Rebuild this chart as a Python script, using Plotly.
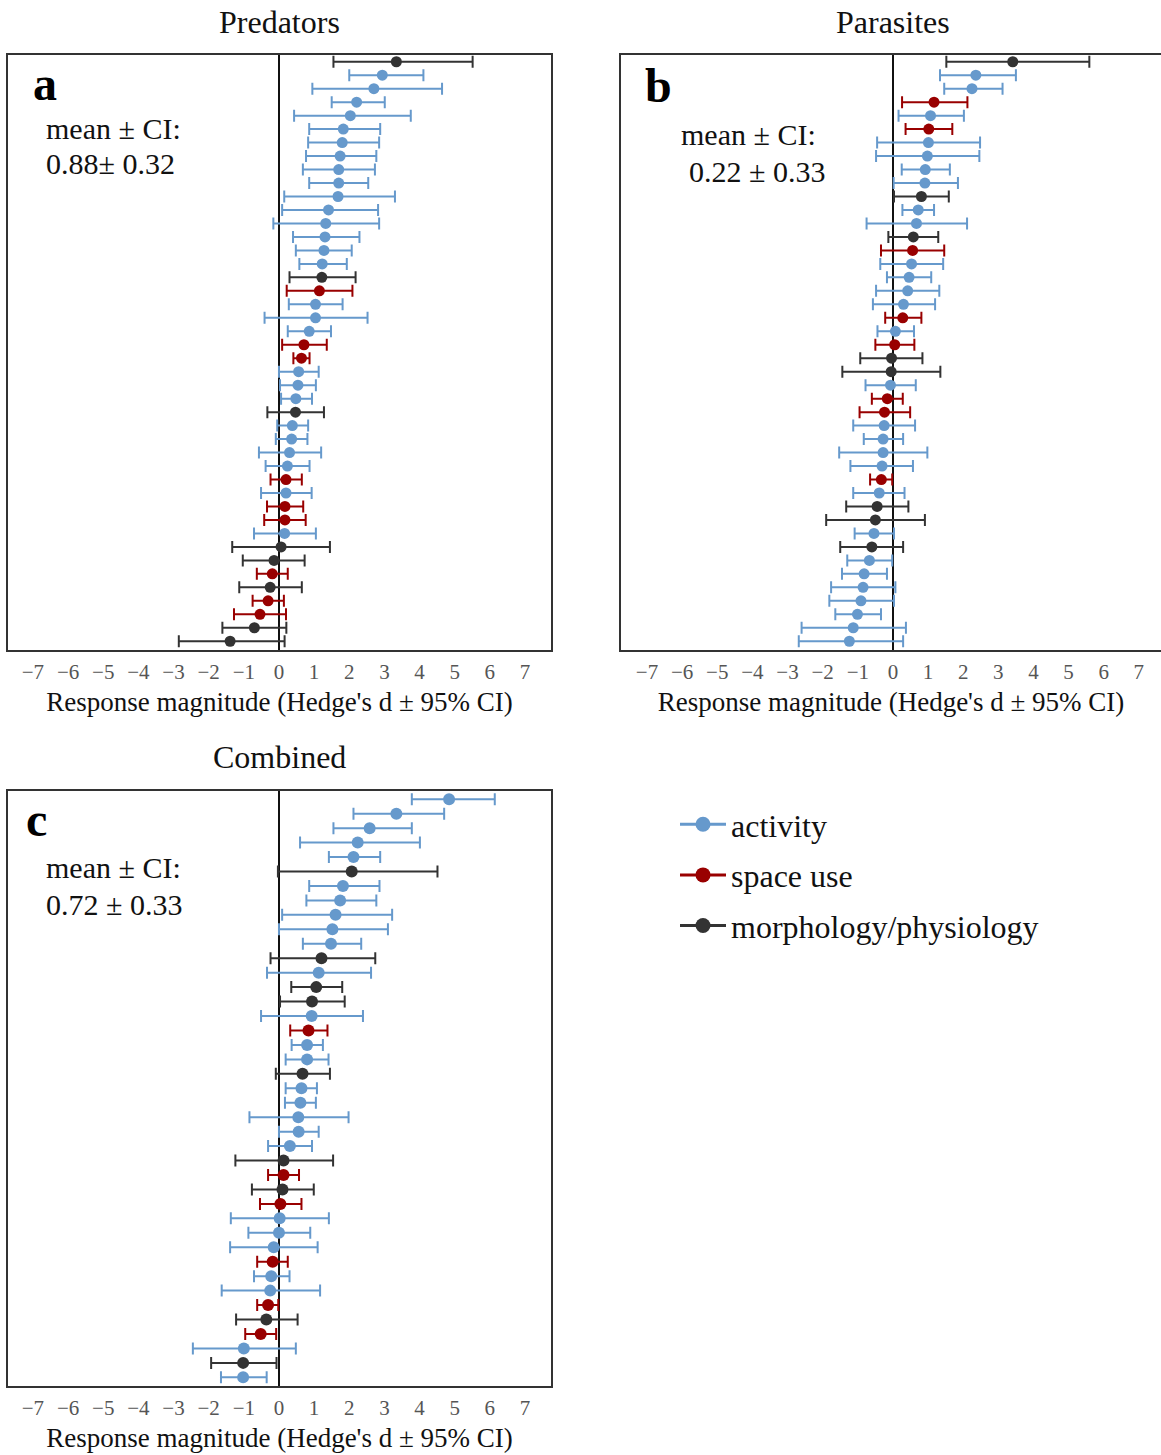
import plotly.graph_objects as go

# ---------------- data ----------------
categories = ["activity", "space use", "morphology/physiology"]
cat_colors = {"activity": "#6699CC", "space use": "#990000", "morphology/physiology": "#333333"}
code = {"A": "activity", "S": "space use", "M": "morphology/physiology"}

pred_mean = [3.34, 2.94, 2.70, 2.21, 2.03, 1.83, 1.80, 1.74, 1.70, 1.70, 1.68, 1.41, 1.33, 1.31, 1.28,
             1.23, 1.22, 1.15, 1.04, 1.04, 0.86, 0.71, 0.64, 0.56, 0.54, 0.48, 0.47, 0.38, 0.36, 0.30,
             0.24, 0.20, 0.20, 0.17, 0.17, 0.16, 0.06, -0.14, -0.19, -0.25, -0.31, -0.54, -0.70, -1.39]
pred_lo = [1.55, 2.00, 0.95, 1.50, 0.43, 0.86, 0.83, 0.77, 0.68, 0.86, 0.15, 0.09, -0.16, 0.40, 0.48,
           0.58, 0.30, 0.22, 0.28, -0.41, 0.25, 0.09, 0.41, 0.00, 0.03, 0.06, -0.33, -0.05, -0.09, -0.57,
           -0.38, -0.24, -0.51, -0.34, -0.42, -0.71, -1.33, -1.03, -0.63, -1.13, -0.75, -1.28, -1.61, -2.85]
pred_hi = [5.51, 4.11, 4.64, 3.01, 3.75, 2.88, 2.85, 2.77, 2.73, 2.54, 3.30, 2.82, 2.85, 2.29, 2.07,
           1.93, 2.18, 2.09, 1.81, 2.52, 1.48, 1.36, 0.87, 1.13, 1.05, 0.94, 1.28, 0.83, 0.81, 1.20,
           0.87, 0.65, 0.93, 0.69, 0.76, 1.05, 1.45, 0.73, 0.25, 0.65, 0.14, 0.20, 0.21, 0.16]
pred_cat = list("MAAAAAAAAAAAAAAAMSAAASSAAAMAAAASASSAMMSMSSMM")

para_mean = [3.41, 2.36, 2.25, 1.17, 1.07, 1.02, 1.01, 0.98, 0.92, 0.91, 0.81, 0.72, 0.67, 0.58, 0.56,
             0.53, 0.46, 0.42, 0.30, 0.28, 0.07, 0.05, -0.04, -0.05, -0.07, -0.16, -0.24, -0.25, -0.28, -0.28,
             -0.31, -0.33, -0.39, -0.45, -0.50, -0.54, -0.60, -0.67, -0.82, -0.85, -0.91, -1.01, -1.13, -1.24]
para_lo = [1.52, 1.34, 1.46, 0.26, 0.16, 0.36, -0.45, -0.48, 0.25, 0.02, 0.03, 0.27, -0.75, -0.13, -0.34,
           -0.36, -0.17, -0.48, -0.57, -0.22, -0.44, -0.50, -0.93, -1.44, -0.78, -0.60, -0.95, -1.13, -0.83, -1.53,
           -1.21, -0.65, -1.13, -1.33, -1.90, -1.09, -1.50, -1.30, -1.45, -1.76, -1.81, -1.64, -2.60, -2.68]
para_hi = [5.59, 3.50, 3.12, 2.12, 2.02, 1.69, 2.48, 2.46, 1.62, 1.85, 1.59, 1.17, 2.11, 1.29, 1.46,
           1.43, 1.09, 1.32, 1.20, 0.81, 0.60, 0.61, 0.84, 1.35, 0.65, 0.28, 0.49, 0.63, 0.29, 0.98,
           0.57, -0.02, 0.33, 0.44, 0.91, 0.03, 0.29, -0.02, -0.17, 0.07, 0.03, -0.34, 0.37, 0.29]
para_cat = list("MAASASAAAAMAAMSAAAASASMMASSAAAASAMMAMAAAAAAA")

comb_mean = [4.84, 3.34, 2.58, 2.24, 2.12, 2.07, 1.82, 1.74, 1.61, 1.52, 1.48, 1.21, 1.13, 1.06, 0.94,
             0.93, 0.84, 0.80, 0.80, 0.67, 0.64, 0.61, 0.55, 0.56, 0.31, 0.13, 0.13, 0.10, 0.04, 0.02,
             0.00, -0.15, -0.18, -0.22, -0.25, -0.31, -0.36, -0.52, -1.00, -1.02, -1.02]
comb_lo = [3.78, 2.12, 1.55, 0.60, 1.42, -0.03, 0.86, 0.78, 0.09, 0.00, 0.68, -0.24, -0.34, 0.35, 0.03,
           -0.51, 0.32, 0.36, 0.19, -0.09, 0.19, 0.17, -0.84, 0.00, -0.31, -1.24, -0.31, -0.77, -0.54, -1.37,
           -0.87, -1.39, -0.62, -0.71, -1.63, -0.62, -1.22, -0.96, -2.45, -1.93, -1.65]
comb_hi = [6.14, 4.70, 3.78, 4.01, 2.88, 4.51, 2.86, 2.77, 3.22, 3.10, 2.34, 2.74, 2.62, 1.80, 1.87,
           2.39, 1.38, 1.25, 1.41, 1.45, 1.08, 1.05, 1.98, 1.13, 0.94, 1.54, 0.57, 0.99, 0.64, 1.42,
           0.89, 1.10, 0.25, 0.30, 1.17, -0.02, 0.53, -0.08, 0.48, -0.07, -0.35]
comb_cat = list("AAAAAMAAAAAMAMMASAAMAAAAAMSMSAAASAASMSAMA")

tick_vals = list(range(-7, 8))
panel_titles = ["Predators", "Parasites", "Combined"]
panel_letters = ["a", "b", "c"]
mean_text = [["mean ± CI:", "0.88± 0.32"], ["mean ± CI:", "0.22 ± 0.33"], ["mean ± CI:", "0.72 ± 0.33"]]
x_title = "Response magnitude (Hedge's d ± 95% CI)"

# ---------------- figure ----------------
W, H = 1161, 1455
SERIF = "Liberation Serif, Times New Roman, serif"

def px_x(p):
    return p / W

def px_y(p):
    return 1 - p / H

fig = go.Figure()

panels = [
    (pred_mean, pred_lo, pred_hi, pred_cat, 11),
    (para_mean, para_lo, para_hi, para_cat, 11),
    (comb_mean, comb_lo, comb_hi, comb_cat, 12),
]

for k, (m, lo, hi, cats, msize) in enumerate(panels):
    n = len(m)
    ax = "" if k == 0 else str(k + 1)
    for cname in categories:
        idx = [i for i in range(n) if code[cats[i]] == cname]
        fig.add_trace(go.Scatter(
            x=[m[i] for i in idx],
            y=[n - i for i in idx],
            mode="markers",
            marker=dict(color=cat_colors[cname], size=msize),
            error_x=dict(type="data", symmetric=False,
                         array=[hi[i] - m[i] for i in idx],
                         arrayminus=[m[i] - lo[i] for i in idx],
                         color=cat_colors[cname], thickness=2, width=6),
            xaxis="x" + ax, yaxis="y" + ax,
            showlegend=False, hoverinfo="x",
        ))

# legend-only traces
for k, cname in enumerate(categories):
    fig.add_trace(go.Scatter(
        x=[None], y=[None], mode="lines+markers", name=cname,
        line=dict(color=cat_colors[cname], width=3),
        marker=dict(color=cat_colors[cname], size=15),
        legendgroup=cname, xaxis="x", yaxis="y",
    ))

xaxis_common = dict(
    tickmode="array", tickvals=tick_vals,
    tickfont=dict(family=SERIF, size=21, color="#555555"),
    ticks="", ticklabelstandoff=2,
    showgrid=False, zeroline=True, zerolinecolor="#111111", zerolinewidth=2,
    showline=True, linecolor="#333333", linewidth=2, mirror=True,
    title=dict(text=x_title, font=dict(family=SERIF, size=27, color="#111111"), standoff=9),
    fixedrange=True,
)
yaxis_common = dict(showticklabels=False, ticks="", showgrid=False, zeroline=False,
                    showline=True, linecolor="#333333", linewidth=2, fixedrange=True)

top_dom = [px_y(650), px_y(55)]
bot_dom = [px_y(1386), px_y(791)]

fig.update_layout(
    width=W, height=H,
    margin=dict(l=0, r=0, t=0, b=0),
    paper_bgcolor="white", plot_bgcolor="white",
    xaxis=dict(domain=[px_x(8), px_x(551)], range=[-7.71, 7.74], anchor="y", **xaxis_common),
    yaxis=dict(domain=top_dom, range=[0.35, 44.5], anchor="x", mirror=True, **yaxis_common),
    xaxis2=dict(domain=[px_x(621), 1.0], range=[-7.74, 7.63], anchor="y2", **xaxis_common),
    yaxis2=dict(domain=top_dom, range=[0.35, 44.5], anchor="x2", mirror=False, **yaxis_common),
    xaxis3=dict(domain=[px_x(8), px_x(551)], range=[-7.71, 7.74], anchor="y3", **xaxis_common),
    yaxis3=dict(domain=bot_dom, range=[0.4, 41.57], anchor="x3", mirror=True, **yaxis_common),
    legend=dict(x=px_x(675), y=px_y(797), xanchor="left", yanchor="top",
                font=dict(family=SERIF, size=32, color="#111111"),
                tracegroupgap=6, bgcolor="rgba(0,0,0,0)", itemwidth=46),
    showlegend=True,
)

annotations = []
# panel titles
for (txt, cx, cy) in [(panel_titles[0], 279.5, 22), (panel_titles[1], 893, 22), (panel_titles[2], 279.5, 757)]:
    annotations.append(dict(text=txt, x=px_x(cx), y=px_y(cy), xref="paper", yref="paper",
                            xanchor="center", yanchor="middle", showarrow=False,
                            font=dict(family=SERIF, size=32, color="#111111")))
# panel letters
for (txt, lx, cy) in [(panel_letters[0], 31, 83), (panel_letters[1], 643, 85), (panel_letters[2], 24, 819)]:
    annotations.append(dict(text="<b>" + txt + "</b>", x=px_x(lx), y=px_y(cy), xref="paper", yref="paper",
                            xanchor="left", yanchor="middle", showarrow=False,
                            font=dict(family=SERIF, size=48, color="#000000")))
# mean text
mean_pos = [((44, 128), (44, 163)), ((679, 134), (687, 171)), ((44, 867), (44, 904))]
for k in range(3):
    for j in range(2):
        lx, cy = mean_pos[k][j]
        annotations.append(dict(text=mean_text[k][j], x=px_x(lx), y=px_y(cy), xref="paper", yref="paper",
                                xanchor="left", yanchor="middle", showarrow=False,
                                font=dict(family=SERIF, size=30, color="#111111")))
fig.update_layout(annotations=annotations)

fig.write_html("out.html", config={"displayModeBar": False},
               post_script="document.body.style.margin='0';")
